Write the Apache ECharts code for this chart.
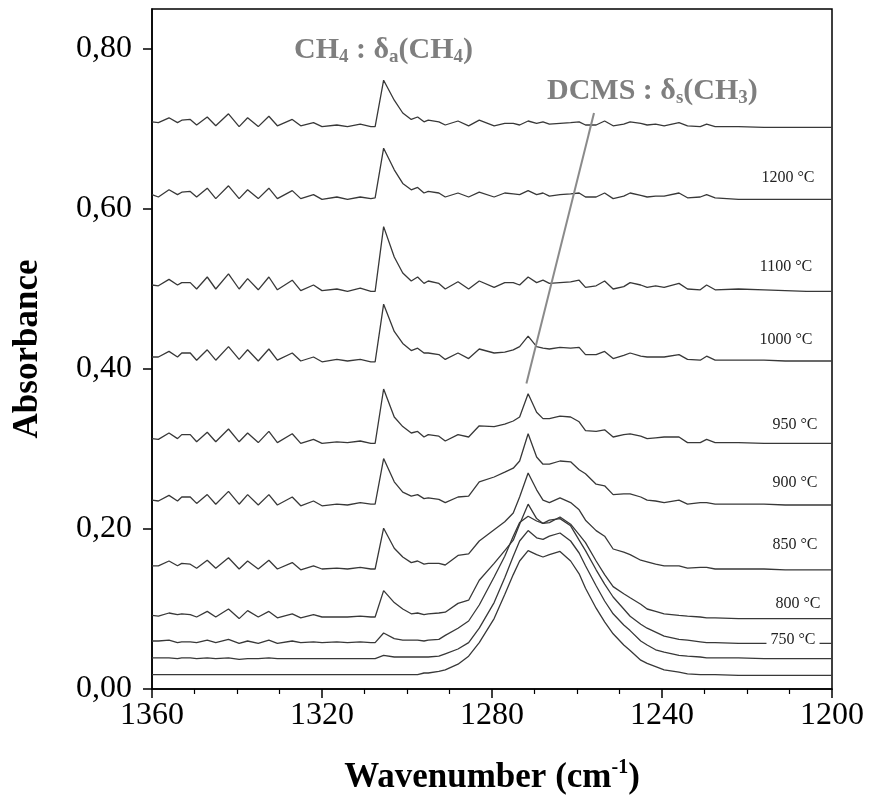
<!DOCTYPE html>
<html><head><meta charset="utf-8">
<script src="https://cdn.jsdelivr.net/npm/echarts/dist/echarts.min.js"></script>
<style>html,body{margin:0;padding:0;background:#fff}#c{width:869px;height:799px}</style>
</head><body><div id="c"></div>
<script>
// ---- data (wavenumber in cm-1, absorbance) ----
const wavenumbers = [1360,1358.5,1356,1354,1353,1351,1349.5,1347,1345,1342,
1339.5,1337.5,1335,1332.5,1330.5,1327,1325,1322,1320,1316.5,
1314,1311,1308.5,1307.5,1305.5,1303,1301,1299,1297.5,1296,
1295,1292.5,1291,1288,1285.5,1283,1279.5,1277,1275,1273.5,
1271.5,1269.5,1268,1266.5,1264,1261.5,1259.5,1258,1255.5,1253.5,
1251.5,1249,1247.5,1245,1243.5,1241.5,1239.5,1236,1234,1231,
1229.5,1227.5,1222,1216,1211,1206,1200];

const absBottom = [0.018,0.018,0.018,0.018,0.018,0.018,0.018,0.018,0.018,0.018,
0.018,0.018,0.018,0.018,0.018,0.018,0.018,0.018,0.018,0.018,
0.018,0.018,0.018,0.018,0.018,0.018,0.018,0.018,0.018,0.020,
0.020,0.022,0.024,0.031,0.041,0.058,0.088,0.118,0.143,0.160,
0.173,0.168,0.165,0.168,0.172,0.160,0.144,0.126,0.101,0.084,
0.069,0.055,0.048,0.036,0.032,0.028,0.024,0.021,0.019,0.018,
0.018,0.018,0.017,0.017,0.017,0.017,0.017];

const absLow = [0.039,0.039,0.039,0.038,0.039,0.039,0.038,0.039,0.038,0.039,
0.037,0.038,0.038,0.039,0.038,0.038,0.038,0.038,0.038,0.038,
0.038,0.038,0.038,0.038,0.042,0.040,0.040,0.040,0.040,0.040,
0.040,0.041,0.044,0.050,0.058,0.076,0.108,0.139,0.166,0.185,
0.198,0.189,0.187,0.191,0.195,0.185,0.170,0.154,0.129,0.110,
0.094,0.080,0.073,0.060,0.055,0.049,0.046,0.042,0.041,0.040,
0.039,0.039,0.039,0.038,0.038,0.038,0.038];

const abs750 = [0.060,0.060,0.061,0.058,0.059,0.059,0.058,0.061,0.058,0.062,
0.057,0.060,0.057,0.061,0.057,0.060,0.058,0.059,0.058,0.059,
0.058,0.059,0.058,0.058,0.070,0.063,0.061,0.061,0.061,0.060,
0.061,0.062,0.067,0.076,0.085,0.105,0.140,0.166,0.191,0.208,
0.216,0.210,0.207,0.211,0.213,0.204,0.186,0.173,0.149,0.131,
0.115,0.100,0.091,0.081,0.076,0.071,0.066,0.062,0.061,0.059,
0.058,0.058,0.057,0.057,0.057,0.057,0.057];

const abs800 = [0.092,0.091,0.095,0.093,0.094,0.093,0.090,0.097,0.090,0.100,
0.088,0.098,0.090,0.097,0.089,0.094,0.089,0.093,0.090,0.090,
0.090,0.091,0.090,0.090,0.123,0.108,0.100,0.094,0.095,0.093,
0.094,0.095,0.096,0.107,0.111,0.136,0.157,0.173,0.186,0.206,
0.231,0.213,0.207,0.208,0.215,0.206,0.193,0.183,0.160,0.143,
0.128,0.119,0.114,0.106,0.100,0.097,0.094,0.092,0.091,0.090,
0.089,0.089,0.088,0.088,0.088,0.088,0.088];

const abs850 = [0.154,0.154,0.160,0.154,0.157,0.156,0.151,0.161,0.151,0.164,
0.150,0.160,0.150,0.161,0.150,0.158,0.149,0.154,0.150,0.151,
0.150,0.152,0.150,0.150,0.201,0.176,0.165,0.158,0.160,0.156,
0.157,0.157,0.155,0.167,0.169,0.185,0.199,0.209,0.220,0.240,
0.270,0.249,0.236,0.233,0.239,0.233,0.224,0.211,0.198,0.191,
0.175,0.171,0.168,0.161,0.159,0.156,0.154,0.154,0.151,0.152,
0.152,0.150,0.150,0.150,0.149,0.149,0.149];

const abs900 = [0.236,0.235,0.242,0.235,0.240,0.240,0.232,0.243,0.231,0.247,
0.231,0.243,0.230,0.243,0.230,0.240,0.229,0.235,0.229,0.231,
0.230,0.233,0.231,0.231,0.288,0.259,0.246,0.241,0.243,0.238,
0.239,0.237,0.233,0.240,0.241,0.259,0.265,0.271,0.276,0.285,
0.319,0.290,0.281,0.281,0.285,0.284,0.274,0.269,0.256,0.254,
0.243,0.244,0.244,0.240,0.236,0.235,0.233,0.236,0.231,0.233,
0.233,0.231,0.231,0.231,0.230,0.230,0.230];

const abs950 = [0.313,0.312,0.320,0.313,0.318,0.318,0.309,0.321,0.309,0.325,
0.309,0.320,0.308,0.322,0.308,0.319,0.307,0.312,0.307,0.309,
0.308,0.310,0.307,0.307,0.375,0.340,0.328,0.320,0.322,0.315,
0.318,0.316,0.310,0.318,0.315,0.329,0.328,0.331,0.335,0.340,
0.369,0.346,0.338,0.338,0.341,0.340,0.334,0.323,0.322,0.324,
0.315,0.318,0.319,0.316,0.313,0.314,0.315,0.315,0.308,0.308,
0.312,0.308,0.308,0.307,0.307,0.307,0.307];

const abs1000 = [0.415,0.415,0.422,0.415,0.420,0.420,0.411,0.424,0.411,0.428,
0.412,0.424,0.410,0.425,0.411,0.420,0.410,0.415,0.409,0.412,
0.410,0.412,0.409,0.409,0.481,0.447,0.432,0.423,0.426,0.420,
0.420,0.418,0.412,0.420,0.413,0.425,0.420,0.421,0.424,0.428,
0.441,0.428,0.426,0.425,0.427,0.426,0.427,0.418,0.418,0.422,
0.413,0.417,0.420,0.416,0.415,0.415,0.415,0.418,0.412,0.411,
0.416,0.411,0.411,0.411,0.410,0.410,0.410];

const abs1100 = [0.505,0.504,0.512,0.505,0.508,0.508,0.500,0.515,0.500,0.519,
0.500,0.513,0.499,0.515,0.499,0.511,0.498,0.505,0.498,0.500,
0.497,0.501,0.497,0.497,0.578,0.540,0.520,0.510,0.515,0.507,
0.510,0.507,0.500,0.509,0.500,0.510,0.502,0.508,0.508,0.505,
0.515,0.508,0.511,0.507,0.508,0.509,0.511,0.502,0.504,0.510,
0.500,0.503,0.508,0.505,0.502,0.504,0.502,0.507,0.500,0.499,
0.505,0.499,0.500,0.499,0.498,0.497,0.497];

const abs1200 = [0.618,0.615,0.624,0.618,0.621,0.622,0.615,0.626,0.613,0.629,
0.613,0.624,0.613,0.626,0.613,0.623,0.613,0.618,0.612,0.615,
0.612,0.615,0.613,0.614,0.676,0.649,0.632,0.624,0.627,0.620,
0.622,0.620,0.615,0.620,0.615,0.621,0.615,0.620,0.619,0.618,
0.623,0.618,0.620,0.616,0.618,0.619,0.620,0.615,0.615,0.620,
0.613,0.616,0.620,0.617,0.615,0.616,0.616,0.620,0.614,0.615,
0.618,0.614,0.612,0.612,0.612,0.612,0.612];

const absTop = [0.709,0.708,0.714,0.708,0.711,0.712,0.705,0.715,0.704,0.719,
0.703,0.714,0.703,0.716,0.704,0.712,0.704,0.708,0.703,0.705,
0.703,0.706,0.703,0.703,0.761,0.736,0.720,0.712,0.715,0.709,
0.711,0.709,0.705,0.710,0.704,0.711,0.704,0.707,0.707,0.705,
0.710,0.707,0.709,0.706,0.707,0.708,0.709,0.705,0.705,0.710,
0.704,0.706,0.709,0.707,0.705,0.706,0.704,0.708,0.704,0.703,
0.706,0.703,0.703,0.702,0.702,0.702,0.702];

const seriesNames = ['bottom','low','750 °C','800 °C','850 °C','900 °C','950 °C','1000 °C','1100 °C','1200 °C','top'];
const tempLabels = ['1200 °C','1100 °C','1000 °C','950 °C','900 °C','850 °C','800 °C','750 °C'];
const dcmsPointer = [[1271.9, 0.382], [1256.0, 0.720]];
const xTicks = [1200, 1240, 1280, 1320, 1360];
const yTicks = [0, 0.2, 0.4, 0.6, 0.8];

// ---- chart ----
const serif = '"Liberation Serif", "Times New Roman", serif';
const curves = [absBottom, absLow, abs750, abs800, abs850, abs900, abs950, abs1000, abs1100, abs1200, absTop];
const series = curves.map((vals, k) => ({
  type: 'line', name: seriesNames[k],
  data: wavenumbers.map((w, i) => [w, vals[i]]),
  symbol: 'none', animation: false, z: 2,
  lineStyle: { color: '#383838', width: 1.3 }
}));
series.push({
  type: 'line', name: 'pointer', data: dcmsPointer, symbol: 'none', animation: false, z: 3,
  lineStyle: { color: '#8a8a8a', width: 2 }
});

// label layout (pixel placement of annotations)
const labelPos = [[788,178],[786,267],[786,340],[795,425],[795,483],[795,545],[798,604],[793,640]];
const gray = '#7f7f7f';
const graphics = tempLabels.map((t, i) => ({
  type: 'text', x: labelPos[i][0], y: labelPos[i][1], z: 100,
  style: Object.assign({ text: t, fontSize: 16, fontFamily: serif, fill: '#222', align: 'center', verticalAlign: 'middle' },
    t === '750 °C' ? { backgroundColor: '#fff', padding: [1, 4, 1, 4] } : {})
}));
const annRich = {
  m: { fontSize: 30, fontWeight: 'bold', fontFamily: serif, fill: gray, lineHeight: 34 },
  s: { fontSize: 19, fontWeight: 'bold', fontFamily: serif, fill: gray, lineHeight: 16, verticalAlign: 'bottom' }
};
graphics.push({ type: 'text', left: 294, top: 35, z: 100,
  style: { text: '{m|CH}{s|4}{m| : δ}{s|a}{m|(CH}{s|4}{m|)}', rich: annRich } });
graphics.push({ type: 'text', left: 547, top: 76, z: 100,
  style: { text: '{m|DCMS : δ}{s|s}{m|(CH}{s|3}{m|)}', rich: annRich } });

const chart = echarts.init(document.getElementById('c'));
chart.setOption({
  animation: false,
  backgroundColor: '#fff',
  grid: { left: 152, right: 37, top: 9, bottom: 110, show: true, borderColor: '#000', borderWidth: 1.5, containLabel: false, outerBoundsMode: 'none' },
  xAxis: {
    type: 'value', min: 1200, max: 1360, interval: 40, inverse: true,
    axisLine: { show: true, lineStyle: { color: '#000', width: 1.5 } },
    axisTick: { show: true, length: 9, lineStyle: { color: '#000', width: 1.5 } },
    minorTick: { show: true, splitNumber: 4, length: 5, lineStyle: { color: '#000', width: 1.2 } },
    splitLine: { show: false }, minorSplitLine: { show: false },
    axisLabel: { fontSize: 32, fontFamily: serif, color: '#000', margin: 11,
      formatter: v => xTicks.includes(v) ? String(v) : '' },
    name: 'Wavenumber (cm{sup|-1})', nameLocation: 'middle', nameGap: 69,
    nameTextStyle: { fontSize: 35, fontWeight: 'bold', fontFamily: serif, color: '#000', lineHeight: 40,
      rich: { sup: { fontSize: 20, fontWeight: 'bold', fontFamily: serif, color: '#000', lineHeight: 30, verticalAlign: 'top' } } }
  },
  yAxis: {
    type: 'value', min: 0, max: 0.85, interval: 0.2,
    axisLine: { show: true, lineStyle: { color: '#000', width: 1.5 } },
    axisTick: { show: true, length: 9, lineStyle: { color: '#000', width: 1.5 }, customValues: yTicks },
    splitLine: { show: false },
    axisLabel: { fontSize: 32, fontFamily: serif, color: '#000', margin: 20, customValues: yTicks,
      formatter: v => Number(v).toFixed(2).replace('.', ',') },
    name: 'Absorbance', nameLocation: 'middle', nameGap: 104,
    nameTextStyle: { fontSize: 35, fontWeight: 'bold', fontFamily: serif, color: '#000', lineHeight: 40 }
  },
  series: series,
  graphic: graphics
});
</script></body></html>
